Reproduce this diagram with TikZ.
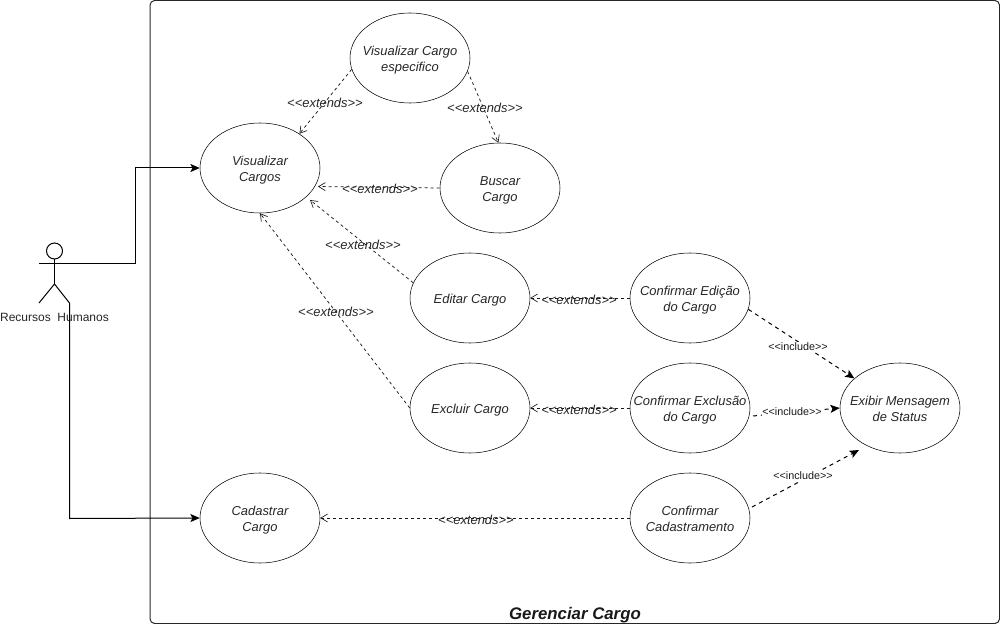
\documentclass[tikz,border=0pt]{standalone}
\usepackage{fontspec}
\setmainfont{Liberation Sans}
\usetikzlibrary{arrows.meta,shapes.geometric}
\newcommand{\uctxt}[1]{\smash{\raisebox{-4pt}{\begin{tabular}{@{}c@{}}#1\end{tabular}}}}
\tikzset{
  uc/.style={draw=black,ellipse,minimum width=90pt,minimum height=67.5pt,inner xsep=-45pt,inner ysep=-20pt,font=\fontsize{9.7}{12}\selectfont\itshape,text=black!85},
  extl/.style={draw=black!90,line width=.55pt,dash pattern=on 2.25pt off 2.25pt,-{Straight Barb[length=5pt,width=6pt,line width=.5pt]}},
  incl/.style={draw=black,line width=.75pt,dash pattern=on 3pt off 3pt,-{Stealth[length=7pt,width=6pt,inset=1.5pt]}},
  assoc/.style={draw=black,line width=.75pt,-{Stealth[length=7pt,width=6pt,inset=1.5pt]}},
  extlab/.style={font=\fontsize{9.7}{11}\selectfont\itshape,text=black!85,inner sep=0pt},
  inclab/.style={font=\fontsize{8.1}{9}\selectfont,fill=white,text=black!90,inner sep=.5pt},
  actorline/.style={draw=black,line width=.75pt}
}
\begin{document}
\begin{tikzpicture}[x=.75pt,y=-.75pt]
\useasboundingbox (0,0) rectangle (1000,624);
\draw[draw=black!85,line width=.75pt,rounded corners=3.5pt] (150,.5) rectangle (999.5,623.5);
\node[font=\fontsize{12.6}{14}\selectfont\bfseries\itshape,text=black!90,inner sep=0pt] (title) at (575,615) {Gerenciar Cargo};

\node[uc] (vis) at (260,168) {\uctxt{Visualizar\\Cargos}};
\node[uc] (esp) at (410,58) {\uctxt{Visualizar Cargo\\especifico}};
\node[uc] (bus) at (500,188) {\uctxt{Buscar\\Cargo}};
\node[uc] (edi) at (470,298) {\uctxt{Editar Cargo}};
\node[uc] (exc) at (470,408) {\uctxt{Excluir Cargo}};
\node[uc] (cad) at (260,518) {\uctxt{Cadastrar\\Cargo}};
\node[uc] (ced) at (690,298) {\uctxt{Confirmar Edição\\do Cargo}};
\node[uc] (cex) at (690,408) {\uctxt{Confirmar Exclusão\\do Cargo}};
\node[uc] (cca) at (690,518) {\uctxt{Confirmar\\Cadastramento}};
\node[uc] (msg) at (900,408) {\uctxt{Exibir Mensagem\\de Status}};

% actor
\node[draw=black,circle,line width=.75pt,minimum size=12pt,inner sep=0pt] (head) at (54.5,251) {};
\coordinate (hip) at (54.5,284);
\coordinate (armL) at (39,263.5);
\coordinate (armR) at (69.5,263.5);
\coordinate (legL) at (39,303);
\coordinate (legR) at (69.5,303);
\draw[actorline] (head.south) -- (hip);
\draw[actorline] (armL) -- (armR);
\draw[actorline] (legL) -- (hip) -- (legR);
\node[font=\fontsize{9}{11}\selectfont,text=black!85,inner sep=0pt] (actor) at (54.5,317.5) {Recursos\ \ Humanos};

\draw[assoc] (armR) -- (135,263.5) -- (135,168) -- (vis.west);
\draw[assoc] (legR) -- (69.5,518.5) -- (cad.west);

\coordinate (t3) at (318,186.5);
\coordinate (t4) at (310,200);
\coordinate (s2) at (753,416);
\coordinate (s3) at (752,507);
\coordinate (t7) at (859,450);

\draw[extl] (esp.191) -- (vis.41);
\draw[extl] (esp.347) -- (bus.92);
\draw[extl] (bus.west) -- (t3);
\draw[extl] (edi.165) -- (t4);
\draw[extl] (exc.west) -- (vis.south);
\draw[extl] (ced.west) -- (edi.east);
\draw[extl] (cex.west) -- (exc.east);
\draw[extl] (cca.west) -- (cad.east);

\draw[incl] (ced.349) -- (msg.147.5);
\draw[incl] (s2) -- (msg.west);
\draw[incl] (s3) -- (t7);

\node[extlab] (l1) at (325,102.5) {<{}<extends>{}>};
\node[extlab] (l2) at (485,107.5) {<{}<extends>{}>};
\node[extlab] (l3) at (380,188.5) {<{}<extends>{}>};
\node[extlab] (l4) at (363,244.5) {<{}<extends>{}>};
\node[extlab] (l5) at (336,311.5) {<{}<extends>{}>};
\node[extlab] (l6) at (579,299.5) {<{}<extends>{}>};
\node[extlab] (l7) at (579,409.5) {<{}<extends>{}>};
\node[extlab] (l8) at (476,519.5) {<{}<extends>{}>};
\node[inclab] (i1) at (798,347) {<{}<include>{}>};
\node[inclab] (i2) at (792,412) {<{}<include>{}>};
\node[inclab] (i3) at (803,476) {<{}<include>{}>};
\end{tikzpicture}
\end{document}
